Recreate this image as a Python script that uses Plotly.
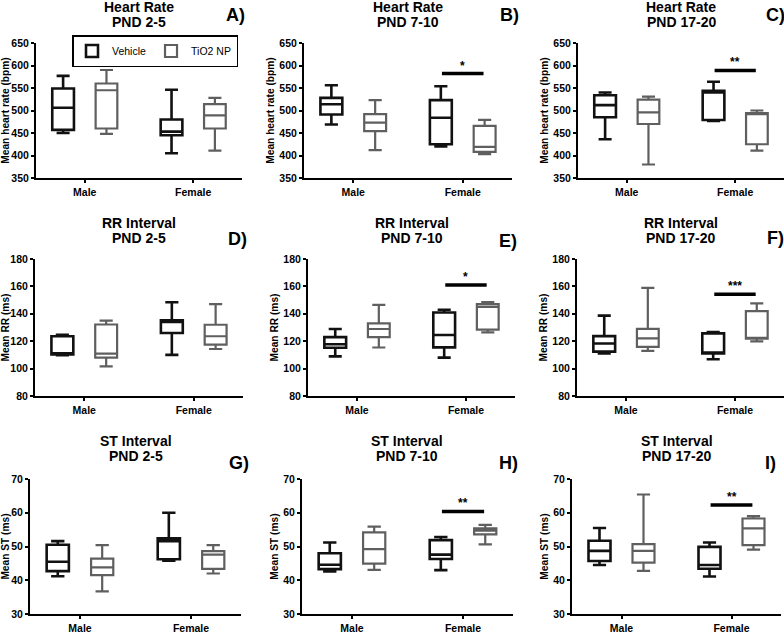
import plotly.graph_objects as go

groups = ["Male", "Female"]
series_names = ["Vehicle", "TiO2 NP"]

# each entry: [min, q1, median, q3, max] for Male, then Female
A_vehicle = [[450, 457, 506, 549, 577], [405, 445, 453, 480, 546]]
A_tio2 = [[448, 460, 545, 560, 590], [411, 460, 489, 514, 528]]
B_vehicle = [[469, 491, 514, 528, 556], [420, 425, 484, 523, 554]]
B_tio2 = [[412, 454, 473, 492, 523], [403, 408, 419, 466, 479]]
C_vehicle = [[436, 485, 512, 534, 540], [477, 479, 540, 544, 564]]
C_tio2 = [[380, 470, 496, 524, 531], [411, 425, 492, 494, 500]]
D_vehicle = [[109.7, 110.4, 111, 123.6, 124.6], [110, 126, 134, 135.2, 148.4]]
D_tio2 = [[101.6, 108, 111, 132.2, 135], [114.3, 117.5, 123.6, 132, 147]]
E_vehicle = [[108.9, 115.2, 117.8, 123, 128.9], [108, 115.5, 124.5, 141, 143]]
E_tio2 = [[115.4, 123, 128.9, 133, 146.5], [126.5, 128.5, 145, 147, 148.5]]
F_vehicle = [[111, 112.4, 118.3, 123.7, 138.7], [106.8, 111, 111.5, 125.7, 126.7]]
F_tio2 = [[113, 115.9, 122, 129, 158.9], [119.8, 121.8, 122.5, 142, 147.6]]
G_vehicle = [[41.2, 42.7, 45.5, 50.5, 51.6], [45.8, 46.2, 51.6, 52.4, 60]]
G_tio2 = [[36.7, 41.5, 43.8, 46.4, 50.4], [42, 43.4, 47.6, 48.6, 50.4]]
H_vehicle = [[42.6, 43.3, 44.6, 48, 51.2], [43, 46.3, 47.6, 51.9, 52.8]]
H_tio2 = [[43.1, 44.9, 49.2, 54.2, 55.9], [50.6, 53.6, 54.7, 55.4, 56.4]]
I_vehicle = [[44.5, 45.7, 48.7, 51.7, 55.5], [41.1, 43.4, 44.5, 49.9, 51.2]]
I_tio2 = [[42.8, 45.2, 48.7, 50.7, 65.4], [49.1, 50.4, 55.4, 58.3, 59]]

panel_letters = ["A)", "B)", "C)", "D)", "E)", "F)", "G)", "H)", "I)"]
titles = ["Heart Rate<br>PND 2-5", "Heart Rate<br>PND 7-10", "Heart Rate<br>PND 17-20",
          "RR Interval<br>PND 2-5", "RR Interval<br>PND 7-10", "RR Interval<br>PND 17-20",
          "ST Interval<br>PND 2-5", "ST Interval<br>PND 7-10", "ST Interval<br>PND 17-20"]
y_titles = ["Mean heart rate (bpm)"] * 3 + ["Mean RR (ms)"] * 3 + ["Mean ST (ms)"] * 3
y_ranges = [[350, 650]] * 3 + [[80, 180]] * 3 + [[30, 70]] * 3
y_dticks = [50] * 3 + [20] * 3 + [10] * 3

# significance annotations (panel index, bar level, label)
sig_panel = [1, 2, 4, 5, 7, 8]
sig_level = [582, 589, 161, 154.2, 60.4, 62.3]
sig_label = ["*", "**", "*", "***", "**", "**"]

vehicle_data = [A_vehicle, B_vehicle, C_vehicle, D_vehicle, E_vehicle, F_vehicle, G_vehicle, H_vehicle, I_vehicle]
tio2_data = [A_tio2, B_tio2, C_tio2, D_tio2, E_tio2, F_tio2, G_tio2, H_tio2, I_tio2]

W, H = 784, 633
FONT = "Liberation Sans, Arial, sans-serif"

# layout geometry in pixels: (left, right) for each panel, (top, bottom) per row
x_px = [(36, 242), (304, 512), (578, 784),
        (35, 243), (308, 515), (577, 784),
        (30, 241), (302, 513), (572, 781)]
row_px = [(43, 178), (259, 396), (479, 614)]
title_px = [(7, 22), (223, 238), (441, 456)]
letter_px = [(224, 15), (498, 15), (764, 15),
             (226, 239), (497, 241), (765, 238),
             (227, 463), (497, 463), (763, 463)]

fig = go.Figure()
layout = {}
annotations = []
shapes = []

for i in range(9):
    ax = "" if i == 0 else str(i + 1)
    for data, name, color, lw, og in [(vehicle_data[i], series_names[0], "#111111", 2.6, "v"),
                                       (tio2_data[i], series_names[1], "#5f5f5f", 2.2, "t")]:
        fig.add_trace(go.Box(
            x=groups,
            lowerfence=[d[0] for d in data],
            q1=[d[1] for d in data],
            median=[d[2] for d in data],
            q3=[d[3] for d in data],
            upperfence=[d[4] for d in data],
            name=name, legendgroup=name,
            offsetgroup=og + str(i), alignmentgroup="p" + str(i),
            showlegend=(i == 0),
            line=dict(color=color, width=lw),
            fillcolor="white", whiskerwidth=0.6,
            boxpoints=False, hoverinfo="skip",
            xaxis="x" + ax, yaxis="y" + ax,
        ))
    r = i // 3
    x0, x1 = x_px[i]
    top, bot = row_px[r]
    layout["xaxis" + ax] = dict(
        domain=[x0 / W, min(x1 / W, 1)], anchor="y" + ax,
        type="category", categoryorder="array", categoryarray=groups,
        range=[-0.45, 1.45], showline=True, linecolor="black", linewidth=2,
        ticks="outside", ticklen=3, tickwidth=2, tickcolor="black",
        tickfont=dict(family=FONT, size=10.5, color="black", weight="bold"),
        showgrid=False, zeroline=False, fixedrange=True, automargin=False,
    )
    layout["yaxis" + ax] = dict(
        domain=[1 - bot / H, 1 - top / H], anchor="x" + ax,
        range=y_ranges[i], dtick=y_dticks[i], showline=True, linecolor="black", linewidth=2,
        ticks="outside", ticklen=3, tickwidth=2, tickcolor="black",
        tickfont=dict(family=FONT, size=10.5, color="black", weight="bold"),
        title=dict(text=y_titles[i], font=dict(family=FONT, size=10.2, color="black", weight="bold"), standoff=3),
        showgrid=False, zeroline=False, fixedrange=True, automargin=False,
    )
    cx = (x0 + min(x1, W)) / 2 / W
    for line_text, ypx in zip(titles[i].split("<br>"), title_px[r]):
        annotations.append(dict(text=line_text, x=cx, y=1 - ypx / H, xref="paper", yref="paper",
                                xanchor="center", yanchor="middle", showarrow=False,
                                font=dict(family=FONT, size=14, color="black", weight="bold")))
    lx, ly = letter_px[i]
    annotations.append(dict(text=panel_letters[i], x=lx / W, y=1 - ly / H, xref="paper", yref="paper",
                            xanchor="left", yanchor="middle", showarrow=False,
                            font=dict(family=FONT, size=18, color="black", weight="bold")))

for p, lvl, lab in zip(sig_panel, sig_level, sig_label):
    ax = "" if p == 0 else str(p + 1)
    shapes.append(dict(type="line", xref="x" + ax, yref="y" + ax, x0=0.81, x1=1.19, y0=lvl, y1=lvl,
                       line=dict(color="black", width=3.5)))
    annotations.append(dict(text=lab, x=1, y=lvl, xref="x" + ax, yref="y" + ax, yshift=8,
                            xanchor="center", yanchor="middle", showarrow=False,
                            font=dict(family=FONT, size=12, color="black", weight="bold")))

fig.update_layout(
    **layout,
    width=W, height=H, margin=dict(l=0, r=0, t=0, b=0, autoexpand=False),
    paper_bgcolor="white", plot_bgcolor="white",
    boxmode="group", boxgap=0.2, boxgroupgap=0.5,
    annotations=annotations, shapes=shapes,
    legend=dict(x=72 / W, y=1 - 35 / H, xanchor="left", yanchor="top", orientation="h",
                bordercolor="black", borderwidth=1.5, bgcolor="white",
                font=dict(family=FONT, size=10.5, color="black"),
                itemwidth=30, tracegroupgap=0),
    font=dict(family=FONT, color="black"),
)

fig.write_html("out.html", config={"displayModeBar": False},
               post_script="document.body.style.margin='0';document.body.style.overflow='hidden';")
